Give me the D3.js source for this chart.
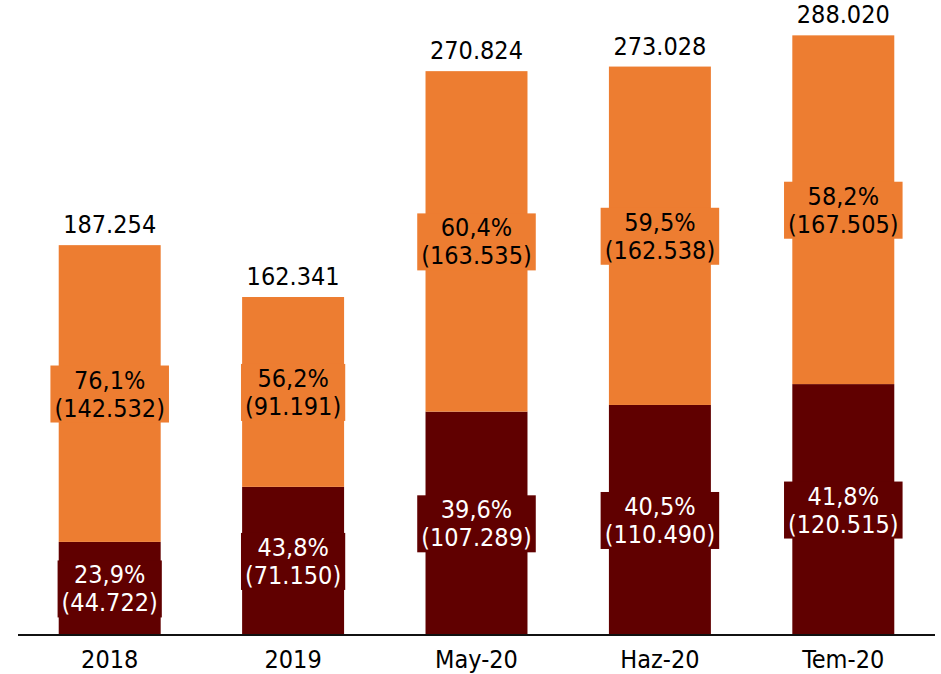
<!DOCTYPE html>
<html lang="tr">
<head>
  <meta charset="UTF-8" />
  <title>Stacked bars</title>
  <style>
    * { margin:0; padding:0; box-sizing:border-box; }
    body { background:#fff; width:941px; height:674px; overflow:hidden; }
    svg { display:block; font-family:'DejaVu Sans Condensed','DejaVu Sans',sans-serif; }
    .axis-line { stroke:#111; stroke-width:2px; }
    .lbl { font-size:25px; text-anchor:middle; }
  </style>
</head>
<body>
<script src="https://d3js.org/d3.v7.min.js"></script>
<script>
  const categories = ['2018', '2019', 'May-20', 'Haz-20', 'Tem-20'];
  const darkValues = [44722, 71150, 107289, 110490, 120515];
  const orangeValues = [142532, 91191, 163535, 162538, 167505];

  const W = 941, H = 674;
  const baseY = 635;
  const colors = { dark:'#600000', orange:'#ed7d31' };

  const tr = d3.formatLocale({ decimal:',', thousands:'.', grouping:[3], currency:['', ''] });
  const fmtNum = tr.format(',d');
  const fmtPct = tr.format('.1%');

  const rows = categories.map((c, i) => ({ cat:c, dark:darkValues[i], orange:orangeValues[i] }));
  const series = d3.stack().keys(['dark', 'orange'])(rows);

  const svg = d3.select('body').append('svg').attr('width', W).attr('height', H);

  const x = d3.scaleBand().domain(categories).range([18, 935])
    .paddingInner(0.444).paddingOuter(0.222);
  const y = d3.scaleLinear().domain([0, 305000]).range([baseY, 0]);

  // bars
  svg.append('g').selectAll('g').data(series).join('g')
    .attr('fill', s => colors[s.key])
    .selectAll('rect').data(s => s).join('rect')
      .attr('x', d => x(d.data.cat))
      .attr('width', x.bandwidth())
      .attr('y', d => y(d[1]))
      .attr('height', d => y(d[0]) - y(d[1]));

  // segment labels with boxes
  series.forEach(s => {
    s.forEach(d => {
      const total = d.data.dark + d.data.orange;
      const v = d.data[s.key];
      const cx = x(d.data.cat) + x.bandwidth() / 2;
      const mid = (y(d[0]) + y(d[1])) / 2;
      const g = svg.append('g');
      const box = g.append('rect').attr('fill', colors[s.key]);
      const t = g.append('text').attr('class', 'lbl')
        .attr('fill', s.key === 'dark' ? '#fff' : '#000');
      t.append('tspan').attr('x', cx).attr('y', mid - 5).text(fmtPct(v / total));
      t.append('tspan').attr('x', cx).attr('y', mid + 23).text('(' + fmtNum(v) + ')');
      const bb = t.node().getBBox();
      box.attr('x', bb.x - 4).attr('width', bb.width + 8)
        .attr('y', mid - 28).attr('height', 57);
    });
  });

  // totals
  svg.append('g').selectAll('text').data(rows).join('text')
    .attr('class', 'lbl')
    .attr('x', d => x(d.cat) + x.bandwidth() / 2)
    .attr('y', d => y(d.dark + d.orange) - 12)
    .text(d => fmtNum(d.dark + d.orange));

  // axis
  svg.append('line').attr('class', 'axis-line')
    .attr('x1', 18).attr('x2', 935).attr('y1', baseY).attr('y2', baseY);
  svg.append('g').selectAll('text').data(categories).join('text')
    .attr('class', 'lbl')
    .attr('x', d => x(d) + x.bandwidth() / 2)
    .attr('y', 668)
    .text(d => d);
</script>
</body>
</html>
